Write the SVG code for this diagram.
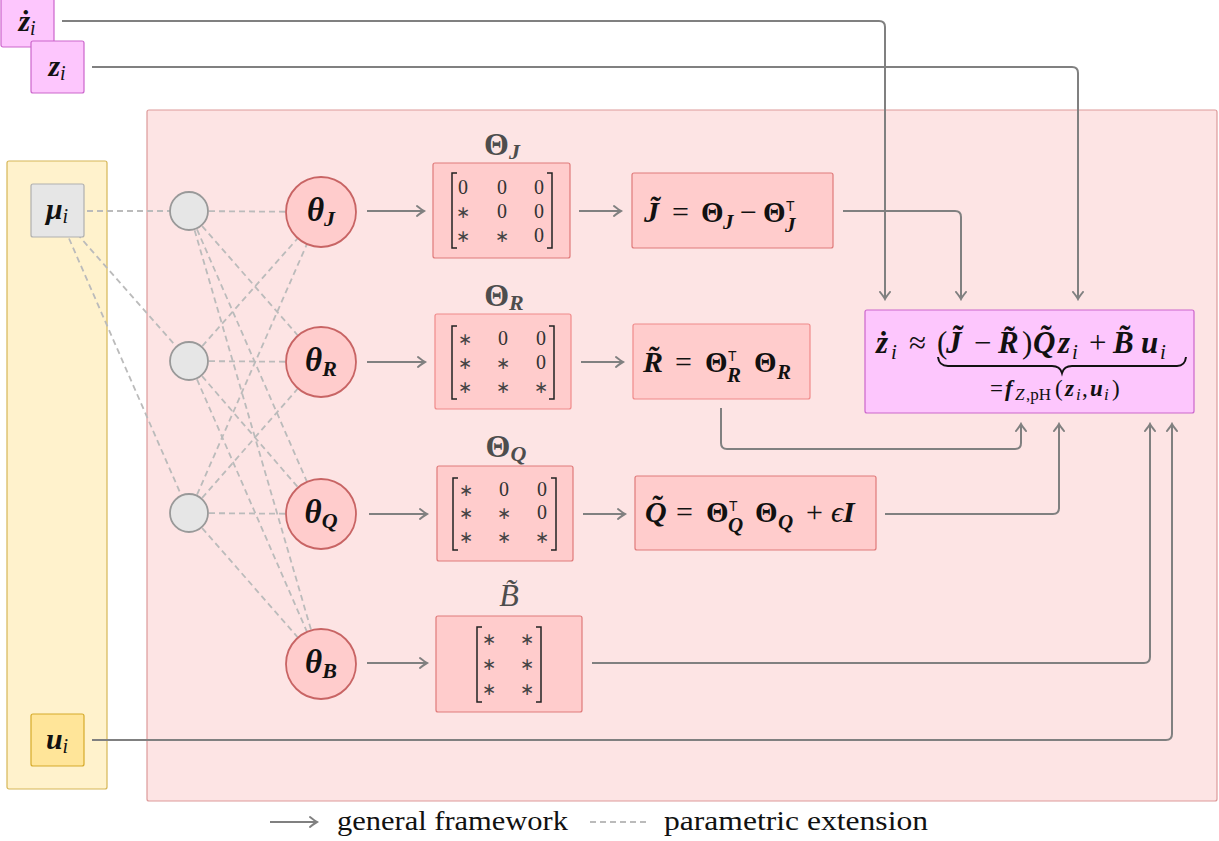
<svg xmlns="http://www.w3.org/2000/svg" width="1219" height="841" viewBox="0 0 1219 841">
<style>
text{font-family:"Liberation Serif",serif;fill:#111}
.bi{font-weight:bold;font-style:italic}
.b{font-weight:bold}
.it{font-style:italic}
text.sf{font-family:"Liberation Sans",sans-serif}
.ttl{fill:#4d4d4d}
.ent{font-size:20px;fill:#333;text-anchor:middle}
.st{font-size:17px;fill:#444;text-anchor:middle}
.dash{stroke:#bbbbbb;stroke-width:1.8;stroke-dasharray:6 4;fill:none}
.conn{stroke:#808080;stroke-width:2;fill:none;marker-end:url(#arr)}
.mag{fill:#fdc6fd;stroke:#cc66cc;stroke-width:1.2}
.mat{fill:#ffcccc;stroke:#e07a7a;stroke-width:1.2}
.theta{fill:#ffcccc;stroke:#c86464;stroke-width:1.8}
.hid{fill:#e6e6e6;stroke:#999;stroke-width:1.8}
.brk{stroke:#222;stroke-width:1.5;fill:none}
</style>
<defs>
<marker id="arr" viewBox="-8 -7 10 14" refX="0" refY="0" markerWidth="10" markerHeight="14" orient="auto" markerUnits="userSpaceOnUse">
<path d="M-7,-5 Q-2,-1 0,0 Q-2,1 -7,5" fill="none" stroke="#808080" stroke-width="2" stroke-linecap="round"/>
</marker>
</defs>
<rect width="1219" height="841" fill="#ffffff"/>
<g id="regions">
<rect x="7" y="161" width="100" height="628" rx="2" fill="#fff2cc" stroke="#d6b656" stroke-width="1.2"/>
<rect x="147" y="110" width="1070" height="691" rx="2" fill="#fde4e4" stroke="#dd9a9a" stroke-width="1.2"/>
</g>
<g id="connectors">
<line class="dash" x1="57" y1="211" x2="189" y2="211"/>
<line class="dash" x1="57" y1="211" x2="189" y2="361"/>
<line class="dash" x1="57" y1="211" x2="189" y2="513"/>
<line class="dash" x1="189" y1="211" x2="321" y2="212"/>
<line class="dash" x1="189" y1="211" x2="321" y2="362"/>
<line class="dash" x1="189" y1="211" x2="321" y2="514"/>
<line class="dash" x1="189" y1="211" x2="321" y2="664"/>
<line class="dash" x1="189" y1="361" x2="321" y2="212"/>
<line class="dash" x1="189" y1="361" x2="321" y2="362"/>
<line class="dash" x1="189" y1="361" x2="321" y2="514"/>
<line class="dash" x1="189" y1="361" x2="321" y2="664"/>
<line class="dash" x1="189" y1="513" x2="321" y2="212"/>
<line class="dash" x1="189" y1="513" x2="321" y2="362"/>
<line class="dash" x1="189" y1="513" x2="321" y2="514"/>
<line class="dash" x1="189" y1="513" x2="321" y2="664"/>
<path class="conn" d="M367,211 H424"/>
<path class="conn" d="M367,362 H425"/>
<path class="conn" d="M369,514 H427"/>
<path class="conn" d="M367,663 H427"/>
<path class="conn" d="M579,211 H621"/>
<path class="conn" d="M581,362 H623"/>
<path class="conn" d="M583,514 H625"/>
<path class="conn" d="M62,21 H879 Q885,21 885,27 V299"/>
<path class="conn" d="M92,67 H1072 Q1078,67 1078,73 V299"/>
<path class="conn" d="M843,211 H955 Q961,211 961,217 V299"/>
<path class="conn" d="M721,408 V443 Q721,449 727,449 H1015 Q1021,449 1021,443 V424"/>
<path class="conn" d="M885,514 H1053 Q1059,514 1059,508 V424"/>
<path class="conn" d="M592,663 H1144 Q1150,663 1150,657 V424"/>
<path class="conn" d="M92,740 H1166 Q1172,740 1172,734 V424"/>
</g>
<g id="zdot">
<rect class="mag" x="1" y="-4" width="53" height="51" rx="2"/>
<text x="27" y="31" font-size="30" text-anchor="middle"><tspan class="bi">ż</tspan><tspan class="it" font-size="20" dy="4">i</tspan></text>
</g>
<g id="z">
<rect class="mag" x="31" y="41" width="53" height="52" rx="2"/>
<text x="57" y="76" font-size="30" text-anchor="middle"><tspan class="bi">z</tspan><tspan class="it" font-size="20" dy="4">i</tspan></text>
</g>
<g id="mu">
<rect x="31" y="184" width="53" height="53" rx="2" fill="#e6e6e6" stroke="#b0b0b0" stroke-width="1.2"/>
<text x="57" y="219" font-size="30" text-anchor="middle"><tspan class="bi">μ</tspan><tspan class="it" font-size="20" dy="4">i</tspan></text>
</g>
<g id="u">
<rect x="31" y="714" width="53" height="52" rx="2" fill="#ffe599" stroke="#d6aa2a" stroke-width="1.2"/>
<text x="57" y="749" font-size="30" text-anchor="middle"><tspan class="bi">u</tspan><tspan class="it" font-size="20" dy="4">i</tspan></text>
</g>
<g id="h1"><circle class="hid" cx="189" cy="211" r="19"/></g>
<g id="h2"><circle class="hid" cx="189" cy="361" r="19"/></g>
<g id="h3"><circle class="hid" cx="189" cy="513" r="19"/></g>
<g id="thetaJ"><circle class="theta" cx="321" cy="212" r="35"/>
<text x="321" y="221" font-size="33" text-anchor="middle"><tspan class="bi">θ</tspan><tspan class="bi" font-size="22" dy="5">J</tspan></text></g>
<g id="thetaR"><circle class="theta" cx="321" cy="362" r="35"/>
<text x="321" y="371" font-size="33" text-anchor="middle"><tspan class="bi">θ</tspan><tspan class="bi" font-size="22" dy="5">R</tspan></text></g>
<g id="thetaQ"><circle class="theta" cx="321" cy="514" r="35"/>
<text x="321" y="523" font-size="33" text-anchor="middle"><tspan class="bi">θ</tspan><tspan class="bi" font-size="22" dy="5">Q</tspan></text></g>
<g id="thetaB"><circle class="theta" cx="321" cy="664" r="35"/>
<text x="321" y="673" font-size="33" text-anchor="middle"><tspan class="bi">θ</tspan><tspan class="bi" font-size="22" dy="5">B</tspan></text></g>
<g id="matJ">
<text class="ttl" x="502" y="155" font-size="32" text-anchor="middle"><tspan class="b ttl">Θ</tspan><tspan class="bi ttl" font-size="22" dy="4">J</tspan></text>
<rect class="mat" x="433" y="163" width="137" height="95" rx="2"/>
<path class="brk" d="M457,173 H452 V248 H457 M547,173 H552 V248 H547"/>
<text class="ent" x="463" y="194">0</text><text class="ent" x="502" y="194">0</text><text class="ent" x="539" y="194">0</text>
<text class="st" x="463" y="218">∗</text><text class="ent" x="502" y="218">0</text><text class="ent" x="539" y="218">0</text>
<text class="st" x="463" y="242">∗</text><text class="st" x="502" y="242">∗</text><text class="ent" x="539" y="242">0</text>
</g>
<g id="matR">
<text class="ttl" x="504" y="306" font-size="32" text-anchor="middle"><tspan class="b ttl">Θ</tspan><tspan class="bi ttl" font-size="22" dy="4">R</tspan></text>
<rect class="mat" x="435" y="314" width="136" height="95" rx="2" style="stroke:#f08a8a"/>
<path class="brk" d="M457,326 H452 V399 H457 M549,326 H554 V399 H549"/>
<text class="st" x="465" y="345">∗</text><text class="ent" x="503" y="345">0</text><text class="ent" x="541" y="345">0</text>
<text class="st" x="465" y="369">∗</text><text class="st" x="503" y="369">∗</text><text class="ent" x="541" y="369">0</text>
<text class="st" x="465" y="393">∗</text><text class="st" x="503" y="393">∗</text><text class="st" x="541" y="393">∗</text>
</g>
<g id="matQ">
<text class="ttl" x="506" y="457" font-size="32" text-anchor="middle"><tspan class="b ttl">Θ</tspan><tspan class="bi ttl" font-size="22" dy="4">Q</tspan></text>
<rect class="mat" x="437" y="466" width="136" height="95" rx="2"/>
<path class="brk" d="M458,478 H453 V550 H458 M551,478 H556 V550 H551"/>
<text class="st" x="466" y="496">∗</text><text class="ent" x="504" y="496">0</text><text class="ent" x="542" y="496">0</text>
<text class="st" x="466" y="519">∗</text><text class="st" x="504" y="519">∗</text><text class="ent" x="542" y="519">0</text>
<text class="st" x="466" y="543">∗</text><text class="st" x="504" y="543">∗</text><text class="st" x="542" y="543">∗</text>
</g>
<g id="matB">
<text class="ttl it" x="509" y="606" font-size="32" text-anchor="middle">B̃</text>
<rect class="mat" x="436" y="616" width="146" height="96" rx="2"/>
<path class="brk" d="M482,627 H477 V702 H482 M536,627 H541 V702 H536"/>
<text class="st" x="489" y="645">∗</text><text class="st" x="527" y="645">∗</text>
<text class="st" x="489" y="670">∗</text><text class="st" x="527" y="670">∗</text>
<text class="st" x="489" y="695">∗</text><text class="st" x="527" y="695">∗</text>
</g>
<g id="Jt">
<rect class="mat" x="632" y="173" width="201" height="75" rx="2"/>
<text y="222" font-size="30"><tspan class="bi" x="644">J̃</tspan><tspan x="672">=</tspan><tspan class="b" x="701" font-size="29">Θ</tspan><tspan class="bi" x="723" y="229" font-size="21">J</tspan><tspan x="740" y="222">−</tspan><tspan class="b" x="763" font-size="29">Θ</tspan></text>
<text class="sf" x="786" y="211" font-size="14">T</text>
<text class="bi" x="785" y="232" font-size="21">J</text>
</g>
<g id="Rt">
<rect class="mat" x="633" y="324" width="177" height="75" rx="2" style="stroke:#f08a8a"/>
<text y="372" font-size="30"><tspan class="bi" x="643">R̃</tspan><tspan x="675">=</tspan><tspan class="b" x="705" font-size="29">Θ</tspan><tspan class="b" x="754" font-size="29">Θ</tspan></text>
<text class="sf" x="728" y="361" font-size="14">T</text>
<text class="bi" x="727" y="382" font-size="21">R</text>
<text class="bi" x="777" y="379" font-size="21">R</text>
</g>
<g id="Qt">
<rect class="mat" x="635" y="476" width="241" height="74" rx="2"/>
<text y="522" font-size="30"><tspan class="bi" x="645">Q̃</tspan><tspan x="676">=</tspan><tspan class="b" x="706" font-size="29">Θ</tspan><tspan class="b" x="755" font-size="29">Θ</tspan><tspan x="806">+</tspan><tspan class="it" x="831">ϵ</tspan><tspan class="bi" x="843">I</tspan></text>
<text class="sf" x="729" y="511" font-size="14">T</text>
<text class="bi" x="728" y="532" font-size="21">Q</text>
<text class="bi" x="778" y="529" font-size="21">Q</text>
</g>
<g id="out">
<rect class="mag" x="865" y="310" width="329" height="103" rx="2"/>
<text y="353" font-size="31"><tspan class="bi" x="876">ż</tspan><tspan class="it" x="891" y="359" font-size="21">i</tspan><tspan x="909" y="353">≈</tspan><tspan x="937">(</tspan><tspan class="bi" x="946">J̃</tspan><tspan x="974">−</tspan><tspan class="bi" x="998">R̃</tspan><tspan x="1022">)</tspan><tspan class="bi" x="1033">Q̃</tspan><tspan class="bi" x="1058">z</tspan><tspan class="it" x="1072" y="359" font-size="21">i</tspan><tspan x="1089" y="353">+</tspan><tspan class="bi" x="1113">B̃</tspan><tspan class="bi" x="1141">u</tspan><tspan class="it" x="1160" y="359" font-size="21">i</tspan></text>
<path d="M938,357 Q939,366 948,366 L1052,366 Q1060,366 1062,373 Q1064,366 1072,366 L1177,366 Q1185,366 1186,357" fill="none" stroke="#111" stroke-width="2"/>
<text y="396" font-size="23"><tspan x="990">=</tspan><tspan class="bi" x="1005">f</tspan><tspan class="it" x="1015" y="400" font-size="17">Z</tspan><tspan x="1026" y="400" font-size="17">,pH</tspan><tspan x="1055" y="396">(</tspan><tspan class="bi" x="1065">z</tspan><tspan class="it" x="1076" y="400" font-size="17">i</tspan><tspan x="1082" y="396">,</tspan><tspan class="bi" x="1090">u</tspan><tspan class="it" x="1104" y="400" font-size="17">i</tspan><tspan x="1112" y="396">)</tspan></text>
</g>
<g id="legend">
<path class="conn" d="M270,822 H317"/>
<text x="337" y="830" font-size="28" textLength="231" lengthAdjust="spacingAndGlyphs">general framework</text>
<line class="dash" x1="590" y1="822" x2="650" y2="822"/>
<text x="664" y="830" font-size="28" textLength="264" lengthAdjust="spacingAndGlyphs">parametric extension</text>
</g>
</svg>
